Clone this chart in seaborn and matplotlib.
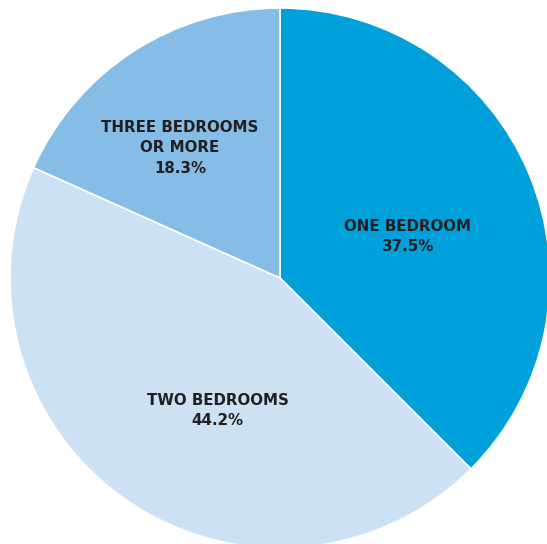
import matplotlib
matplotlib.use("Agg")
import matplotlib.pyplot as plt
import seaborn as sns

categories = ["ONE BEDROOM", "TWO BEDROOMS", "THREE BEDROOMS\nOR MORE"]
values = [37.5, 44.2, 18.3]
colors = ["#00a0db", "#cce1f4", "#86bde6"]
label_pos = [(0.474, 0.153), (-0.23, -0.49), (-0.37, 0.482)]

sns.set_style("white")
plt.rcParams['font.family'] = ['DejaVu Sans']

fig = plt.figure(figsize=(5.47, 5.44), dpi=100)
ax = fig.add_axes([10/547, -4/544, 540/547, 540/544])
ax.pie(values, colors=colors, startangle=90, counterclock=False, radius=1,
       wedgeprops=dict(edgecolor="white", linewidth=1.2))
for cat, v, (x, y) in zip(categories, values, label_pos):
    ax.text(x, y, f"{cat}\n{v:.1f}%", ha="center", va="center", fontsize=10.8,
            fontweight="bold", color="#231f20", linespacing=1.45)
ax.set_xlim(-1, 1)
ax.set_ylim(-1, 1)
ax.set_aspect("equal")
ax.axis("off")
fig.savefig("out.png", dpi=100)
